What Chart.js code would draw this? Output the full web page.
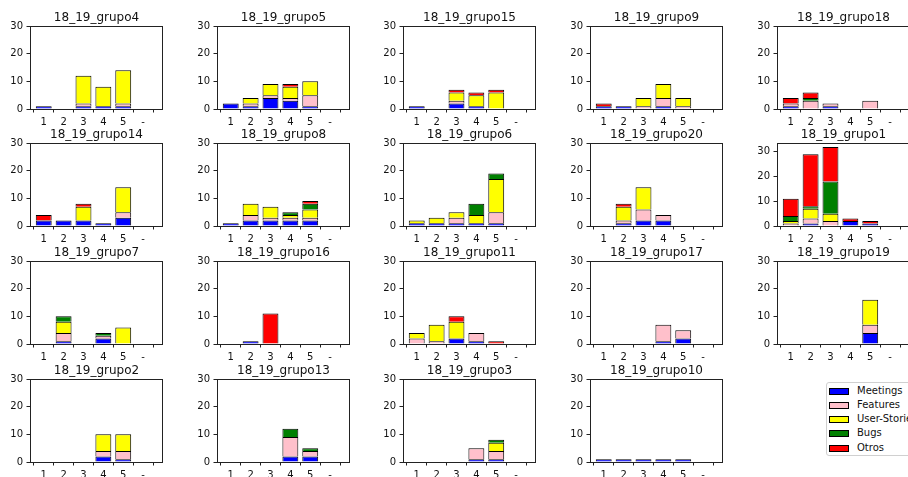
<!DOCTYPE html>
<html><head><meta charset="utf-8">
<script src="https://cdn.jsdelivr.net/npm/chart.js@4"></script>
<style>
html,body{margin:0;padding:0;background:#fff;width:908px;height:477px;overflow:hidden;position:relative;font-family:"DejaVu Sans",sans-serif;}
canvas{position:absolute;}
#legend{position:absolute;left:826px;top:382px;width:100px;height:74px;border:1px solid #d0d0d0;border-radius:3px;background:#fff;box-sizing:border-box;}
.sw{position:absolute;left:2px;width:20px;height:7px;border:1px solid #000;box-sizing:border-box;}
.lt{position:absolute;left:30px;font-size:10px;line-height:12px;color:#111;white-space:nowrap;font-family:"DejaVu Sans",sans-serif;}
</style></head><body>
<div id="legend"></div>
<script>
const categories = ['1','2','3','4','5','-'];
const groups = ['18_19_grupo4','18_19_grupo5','18_19_grupo15','18_19_grupo9','18_19_grupo18',
                '18_19_grupo14','18_19_grupo8','18_19_grupo6','18_19_grupo20','18_19_grupo1',
                '18_19_grupo7','18_19_grupo16','18_19_grupo11','18_19_grupo17','18_19_grupo19',
                '18_19_grupo2','18_19_grupo13','18_19_grupo3','18_19_grupo10'];
const seriesNames = ['Meetings','Features','User-Stories','Bugs','Otros'];
const yTicks = [0,10,20,30];

const meetings = [
  [1,0,1,1,1,0],[2,1,4,3,1,0],[1,0,2,1,0,0],[1,1,0,1,0,0],[1,0,1,0,0,0],
  [2,2,2,1,3,0],[1,2,2,2,2,0],[1,1,1,1,1,0],[0,1,2,2,0,0],[0,1,0,2,1,0],
  [0,1,0,2,0,0],[0,1,0,0,0,0],[0,0,2,1,0,0],[0,0,0,1,2,0],[0,0,0,0,4,0],
  [0,0,0,2,1,0],[0,0,0,2,2,0],[0,0,0,1,1,0],[1,1,1,1,1,0]
];
const features = [
  [0,0,1,0,1,0],[0,1,1,1,4,0],[0,0,1,0,0,0],[0,0,1,3,1,0],[1,3,1,0,3,0],
  [0,0,0,0,2,0],[0,2,1,1,1,0],[0,0,2,0,4,0],[0,1,4,2,0,0],[1,2,2,0,0,0],
  [0,3,0,1,0,0],[0,0,0,0,0,0],[2,1,0,3,0,0],[0,0,0,6,3,0],[0,0,0,0,3,0],
  [0,0,0,2,3,0],[0,0,0,7,2,0],[0,0,0,4,3,0],[0,0,0,0,0,0]
];
const userStories = [
  [0,0,10,7,12,0],[0,2,4,4,5,0],[0,0,3,4,6,0],[0,0,3,5,3,0],[0,0,0,0,0,0],
  [0,0,5,0,9,0],[0,4,4,1,3,0],[1,2,2,3,12,0],[0,5,8,0,0,0],[1,4,3,0,0,0],
  [0,4,0,0,6,0],[0,0,0,0,0,0],[2,6,6,0,0,0],[0,0,0,0,0,0],[0,0,0,0,9,0],
  [0,0,0,6,6,0],[0,0,0,0,0,0],[0,0,0,0,3,0],[0,0,0,0,0,0]
];
const bugs = [
  [0,0,0,0,0,0],[0,0,0,0,0,0],[0,0,0,0,0,0],[0,0,0,0,0,0],[0,1,0,0,0,0],
  [0,0,0,0,0,0],[0,0,0,1,2,0],[0,0,0,4,2,0],[0,0,0,0,0,0],[2,1,13,0,0,0],
  [0,2,0,1,0,0],[0,0,0,0,0,0],[0,0,0,0,0,0],[0,0,0,0,0,0],[0,0,0,0,0,0],
  [0,0,0,0,0,0],[0,0,0,3,1,0],[0,0,0,0,1,0],[0,0,0,0,0,0]
];
const otros = [
  [0,0,0,0,0,0],[0,0,0,1,0,0],[0,0,1,1,1,0],[1,0,0,0,0,0],[2,2,0,0,0,0],
  [2,0,1,0,0,0],[0,0,0,0,1,0],[0,0,0,0,0,0],[0,1,0,0,0,0],[7,21,14,1,1,0],
  [0,0,0,0,0,0],[0,0,11,0,0,0],[0,0,2,0,1,0],[0,0,0,0,0,0],[0,0,0,0,0,0],
  [0,0,0,0,0,0],[0,0,0,0,0,0],[0,0,0,0,0,0],[0,0,0,0,0,0]
];

const seriesData = [meetings, features, userStories, bugs, otros];
const seriesColors = ['#0000ff','#ffc0cb','#ffff00','#008000','#ff0000'];

const colLeft = [30,217,403,590,777];
const rowTop = [26,143,261,379];
const FONT = 'DejaVu Sans';

const frame = {
  id:'frame',
  afterDatasetsDraw(chart){
    const {ctx, chartArea:a} = chart;
    ctx.save();
    ctx.strokeStyle = '#222';
    ctx.lineWidth = 1;
    ctx.strokeRect(Math.round(a.left)+0.5, Math.round(a.top)+0.5, Math.round(a.right-a.left)-1, Math.round(a.bottom-a.top));
    ctx.restore();
  }
};

const gridOpts = {display:true, drawOnChartArea:false, drawTicks:true, tickLength:3.5, tickColor:'#222', lineWidth:1};

groups.forEach((name, g) => {
  const col = g % 5, row = Math.floor(g / 5);
  const cv = document.createElement('canvas');
  cv.width = 173; cv.height = 129;
  cv.style.left = (colLeft[col] - 30) + 'px';
  cv.style.top = (rowTop[row] - 26) + 'px';
  cv.style.width = '173px'; cv.style.height = '129px';
  document.body.appendChild(cv);

  let maxTotal = 0;
  categories.forEach((c, i) => {
    const t = seriesData.reduce((s, arr) => s + arr[g][i], 0);
    if (t > maxTotal) maxTotal = t;
  });
  const yMax = maxTotal > 30 ? maxTotal * 1.05 : 30;

  new Chart(cv, {
    type: 'bar',
    data: {
      datasets: seriesNames.map((n, s) => ({
        label: n,
        data: seriesData[s][g].map((v, i) => ({x: i, y: v})),
        backgroundColor: seriesColors[s],
        borderColor: '#000',
        borderWidth: 1,
        categoryPercentage: 1,
        barPercentage: 0.8
      }))
    },
    options: {
      responsive: false, animation: false, devicePixelRatio: 1,
      layout: {padding: {left: 0, right: 10, top: 0, bottom: 0}},
      plugins: {
        legend: {display: false},
        tooltip: {enabled: false},
        title: {display: true, text: name, fullSize: false, color: '#111',
                font: {family: FONT, size: 12, weight: 'normal'}, padding: {top: 11, bottom: 0.6}}
      },
      scales: {
        x: {
          type: 'linear', stacked: true, min: -0.69, max: 6, offset: false,
          afterBuildTicks: s => { s.ticks = [0,1,2,3,4,5,6].map(v => ({value: v})); },
          afterFit: s => { s.height = 20; },
          ticks: {callback: v => (categories[v] !== undefined ? categories[v] : ''), color: '#111',
                  font: {family: FONT, size: 10}, padding: 4, maxRotation: 0, autoSkip: false},
          grid: gridOpts,
          border: {display: false}
        },
        y: {
          type: 'linear', stacked: true, min: 0, max: yMax,
          afterBuildTicks: s => { s.ticks = yTicks.map(v => ({value: v})); },
          afterFit: s => { s.width = 30; },
          ticks: {color: '#111', font: {family: FONT, size: 10}, padding: 3.5},
          grid: gridOpts,
          border: {display: false}
        }
      }
    },
    plugins: [frame]
  });
});

const legend = document.getElementById('legend');
seriesNames.forEach((n, s) => {
  const c = 8 + s * 14.3;
  const sw = document.createElement('div');
  sw.className = 'sw'; sw.style.top = (c - 3.5) + 'px'; sw.style.background = seriesColors[s];
  const t = document.createElement('div');
  t.className = 'lt'; t.style.top = (c - 6.5) + 'px'; t.textContent = n;
  legend.appendChild(sw); legend.appendChild(t);
});
</script>
</body></html>
